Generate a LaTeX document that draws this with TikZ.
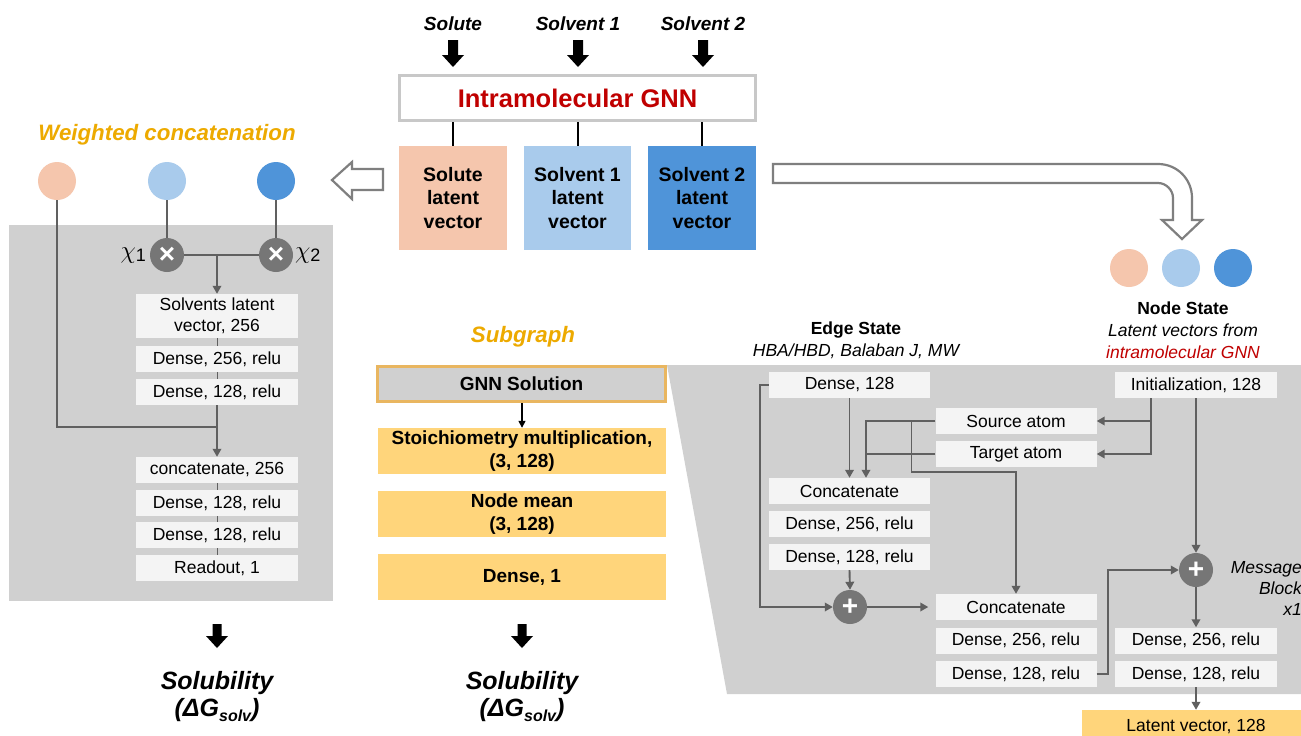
\documentclass[tikz,border=0pt]{standalone}
\usepackage{fontspec}
\setmainfont{Liberation Sans}
\usetikzlibrary{arrows.meta}
\definecolor{panelg}{HTML}{D0D0D0}
\definecolor{boxw}{HTML}{F4F4F4}
\definecolor{lineg}{HTML}{606060}
\definecolor{opg}{HTML}{767676}
\definecolor{peach}{HTML}{F5C6AD}
\definecolor{lblue}{HTML}{A9CBEC}
\definecolor{dblue}{HTML}{4F94D9}
\definecolor{ybox}{HTML}{FFD57B}
\definecolor{gold}{HTML}{EDAA00}
\definecolor{goldline}{HTML}{E9B660}
\definecolor{redt}{HTML}{C00000}
\definecolor{hollow}{HTML}{7F7F7F}
\newcommand\FS[2]{\fontsize{#1}{#2}\selectfont}
\begin{document}
\begin{tikzpicture}[x=1pt,y=-1pt,
  wbox/.style={rectangle, fill=boxw, inner sep=0pt, minimum width=162pt, minimum height=26pt, font=\FS{17.5}{21}, align=center},
  ybx/.style={rectangle, fill=ybox, inner sep=0pt, minimum width=288pt, minimum height=46pt, font=\FS{19}{22.5}\bfseries, align=center},
  lbox/.style={rectangle, inner sep=0pt, minimum width=108pt, minimum height=104pt, font=\FS{19.5}{23.5}\bfseries, align=center},
  dot/.style={circle, inner sep=0pt, minimum size=38pt},
  opc/.style={circle, fill=opg, inner sep=0pt, minimum size=34pt, text=white, font=\FS{28}{28}\bfseries},
  conn/.style={draw=lineg, line width=1.9pt},
  thin/.style={draw=lineg, line width=1pt},
  arr/.style={-{Triangle[length=8pt,width=8.5pt]}},
  lbl/.style={inner sep=0pt, align=center},
  blkarrow/.pic={\fill[black] (-5,0) -- (5,0) -- (5,15) -- (11,15) -- (0,27) -- (-11,15) -- (-5,15) -- cycle;},
  blkarrows/.pic={\fill[black] (-4.5,0) -- (4.5,0) -- (4.5,12) -- (11,12) -- (0,24) -- (-11,12) -- (-4.5,12) -- cycle;}
]
\useasboundingbox (0,0) rectangle (1301,736);
\clip (0,0) rectangle (1301,736);
\fill[white] (0,0) rectangle (1301,736);

% ---------- backgrounds ----------
\fill[panelg] (9,225) rectangle (333,601);
\fill[panelg] (667,365) -- (1301,365) -- (1301,694) -- (727,694) -- cycle;

% ---------- top ----------
\node[lbl, font=\FS{19}{23}\bfseries\itshape] (tsolute) at (453,24) {Solute};
\node[lbl, font=\FS{19}{23}\bfseries\itshape] (tsolv1) at (578,24) {Solvent 1};
\node[lbl, font=\FS{19}{23}\bfseries\itshape] (tsolv2) at (703,24) {Solvent 2};
\pic at (453,40) {blkarrow};
\pic at (578,40) {blkarrow};
\pic at (703,40) {blkarrow};
\node[rectangle, draw={rgb,255:red,200;green,200;blue,200}, line width=3pt, fill=white, minimum width=356pt, minimum height=45pt, inner sep=0pt, text=redt, font=\FS{25.5}{30}\bfseries] (gnn) at (577.5,98) {Intramolecular GNN};
\node[lbox, fill=peach] (sol) at (453,198) {Solute\\latent\\vector};
\node[lbox, fill=lblue, minimum width=107pt] (sv1) at (577.5,198) {Solvent 1\\latent\\vector};
\node[lbox, fill=dblue] (sv2) at (702,198) {Solvent 2\\latent\\vector};
\draw[black, line width=2pt] (gnn.south -| sol.north) -- (sol.north);
\draw[black, line width=2pt] (gnn.south -| sv1.north) -- (sv1.north);
\draw[black, line width=2pt] (gnn.south -| sv2.north) -- (sv2.north);

% hollow arrows
\draw[hollow, line width=2.2pt, fill=white, line join=miter]
  (332,180) -- (352,162) -- (352,169) -- (383,169) -- (383,190) -- (352,190) -- (352,199) -- cycle;
\draw[hollow, line width=2.2pt, fill=white, line join=miter]
  (773,164) -- (1158,164) .. controls (1177,164) and (1192,179) .. (1192,198)
  -- (1192,220) -- (1202,220) -- (1182,239) -- (1162,220) -- (1173,220) -- (1173,198)
  .. controls (1173,190) and (1166,183) .. (1158,183) -- (773,183) -- cycle;

% ---------- left panel ----------
\node[lbl, text=gold, font=\FS{22.3}{26}\bfseries\itshape] (twc) at (167,135) {Weighted concatenation};
\node[dot, fill=peach] (c1) at (57,181) {};
\node[dot, fill=lblue] (c2) at (167,181) {};
\node[dot, fill=dblue] (c3) at (276,181) {};
\node[opc] (m1) at (167,255) {×};
\node[opc] (m2) at (276,255) {×};
\node[lbl, anchor=east] (chi1) at (146,256) {\FS{26}{26}$\chi$\raisebox{-3pt}{\FS{18}{18}1}};
\node[lbl, anchor=west] (chi2) at (295,256) {\FS{26}{26}$\chi$\raisebox{-3pt}{\FS{18}{18}2}};

\node[wbox, minimum height=44pt] (lsol) at (217,316) {Solvents latent\\vector, 256};
\node[wbox] (ld1) at (217,359) {Dense, 256, relu};
\node[wbox] (ld2) at (217,392) {Dense, 128, relu};
\node[wbox] (lcat) at (217,470) {concatenate, 256};
\node[wbox] (ld3) at (217,503) {Dense, 128, relu};
\node[wbox] (ld4) at (217,535) {Dense, 128, relu};
\node[wbox] (lread) at (217,568) {Readout, 1};

\coordinate (j1) at (217,427);
\draw[conn] (c1.south) |- (j1);
\draw[conn] (c2.south) -- (m1.north);
\draw[conn] (c3.south) -- (m2.north);
\draw[conn] (m1.east) -- (m2.west);
\draw[conn, arr] (m1.east -| lsol.north) -- (lsol.north);
\draw[thin] (lsol.south) -- (ld1.north);
\draw[thin] (ld1.south) -- (ld2.north);
\draw[conn, arr] (ld2.south) -- (lcat.north);
\draw[thin] (lcat.south) -- (ld3.north);
\draw[thin] (ld3.south) -- (ld4.north);
\draw[thin] (ld4.south) -- (lread.north);

\pic at (217,624) {blkarrows};
\node[lbl, font=\FS{25}{28}\bfseries\itshape] (lsolub) at (217,683) {Solubility};
\node[lbl, font=\FS{25}{28}\bfseries\itshape] (ldg) at (217,710) {(ΔG\raisebox{-5pt}{\FS{16}{16}solv})};

% ---------- middle ----------
\node[lbl, text=gold, font=\FS{22.3}{26}\bfseries\itshape] (tsub) at (523,337) {Subgraph};
\node[rectangle, fill=panelg, draw=goldline, line width=3pt, minimum width=288pt, minimum height=35pt, inner sep=0pt, font=\FS{19}{22}\bfseries] (gsol) at (521.5,384) {GNN Solution};
\node[ybx] (stoi) at (522,451) {Stoichiometry multiplication,\\(3, 128)};
\node[ybx] (nmean) at (522,514) {Node mean\\(3, 128)};
\node[ybx] (dns1) at (522,577) {Dense, 1};
\draw[black, line width=1.4pt, -{Triangle[length=7pt,width=7pt]}] (gsol.south -| stoi.north) -- (stoi.north);

\pic at (522,624) {blkarrows};
\node[lbl, font=\FS{25}{28}\bfseries\itshape] (msolub) at (522,683) {Solubility};
\node[lbl, font=\FS{25}{28}\bfseries\itshape] (mdg) at (522,710) {(ΔG\raisebox{-5pt}{\FS{16}{16}solv})};

% ---------- right panel ----------
\node[lbl, font=\FS{17.5}{21}\bfseries] (tedge) at (856,330) {Edge State};
\node[lbl, font=\FS{17.5}{21}\itshape] (tedge2) at (856,351) {HBA/HBD, Balaban J, MW};
\node[dot, fill=peach] (n1) at (1129,268) {};
\node[dot, fill=lblue] (n2) at (1181,268) {};
\node[dot, fill=dblue] (n3) at (1233,268) {};
\node[lbl, font=\FS{17.5}{21}\bfseries] (tnode) at (1183,308) {Node State};
\node[lbl, font=\FS{17.5}{21}\itshape] (tnode2) at (1183,330) {Latent vectors from};
\node[lbl, font=\FS{17.5}{21}\itshape, text=redt] (tnode3) at (1183,352) {intramolecular GNN};

\node[wbox, minimum width=161pt] (rd128) at (849.5,385) {Dense, 128};
\node[wbox] (rinit) at (1196,385) {Initialization, 128};
\node[wbox, minimum width=161pt] (rsrc) at (1016,421) {Source atom};
\node[wbox, minimum width=161pt] (rtgt) at (1016,454) {Target atom};
\node[wbox, minimum width=161pt] (rcat1) at (849.5,491) {Concatenate};
\node[wbox, minimum width=161pt] (rd256a) at (849.5,524) {Dense, 256, relu};
\node[wbox, minimum width=161pt] (rd128a) at (849.5,557) {Dense, 128, relu};
\node[wbox, minimum width=161pt] (rcat2) at (1016,607) {Concatenate};
\node[wbox, minimum width=161pt] (rd256b) at (1016,640.5) {Dense, 256, relu};
\node[wbox, minimum width=161pt] (rd128b) at (1016,674) {Dense, 128, relu};
\node[wbox] (rd256c) at (1196,640.5) {Dense, 256, relu};
\node[wbox] (rd128c) at (1196,674) {Dense, 128, relu};
\node[rectangle, fill=ybox, inner sep=0pt, minimum width=228pt, minimum height=34pt] (latent) at (1196,727) {};
\node[lbl, font=\FS{17.5}{21}] (latentt) at (1196,727) {Latent vector, 128};
\node[opc] (p1) at (850,607) {+};
\node[opc] (p2) at (1196,570) {+};
\node[lbl, anchor=east, font=\FS{17.5}{21}\itshape, align=right] (tmsg) at (1302,588) {Message\\Block\\x1};

\coordinate (lb) at (760,385);
\draw[conn, arr] (rd128.west) -- (lb) |- (p1.west);
\draw[conn, arr] (rd128.south) -- (rcat1.north);
\coordinate (cin) at ([xshift=16.5pt]rcat1.north);
\draw[conn, arr] (rsrc.west) -| (cin);
\draw[conn] (rtgt.west) -- (rtgt.west -| cin);
\coordinate (sb) at (911.5,421);
\coordinate (sb2) at (911.5,472);
\draw[conn, arr] (sb) -- (sb2) -| (rcat2.north);
\coordinate (ib) at ([xshift=-45pt]rinit.south);
\draw[conn, arr] (ib) |- (rtgt.east);
\draw[conn, arr] (ib |- rsrc.east) -- (rsrc.east);
\draw[conn, arr] (rinit.south) -- (p2.north);
\draw[conn, arr] (rd128a.south) -- (p1.north);
\draw[conn, arr, shorten >=7pt] (p1.east) -- (rcat2.west);
\draw[conn, arr] (rd128b.east) -- ++(11,0) |- (p2.west);
\draw[conn, arr] (p2.south) -- (rd256c.north);
\draw[conn, arr] (rd128c.south) -- (latent.north);
\end{tikzpicture}
\end{document}
